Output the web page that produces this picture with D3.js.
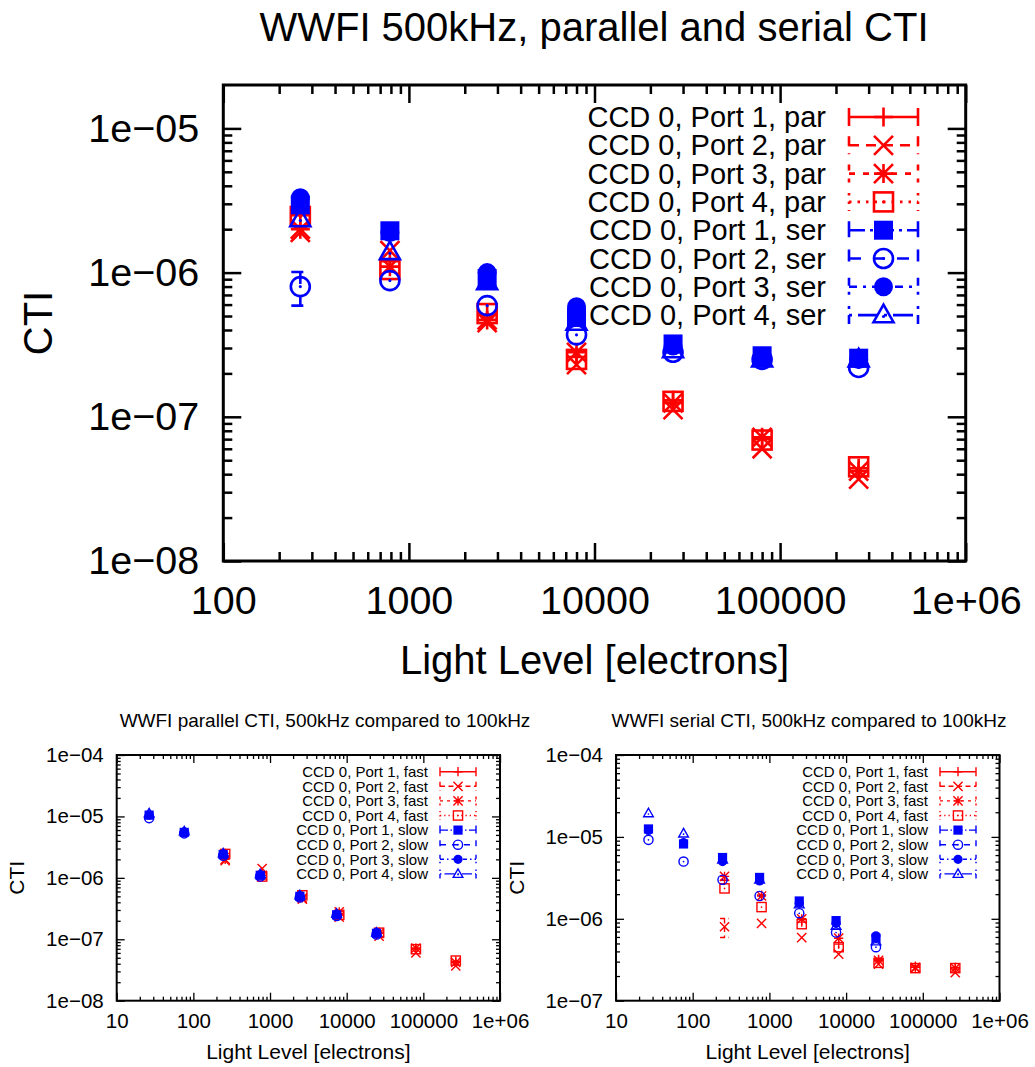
<!DOCTYPE html>
<html><head><meta charset="utf-8">
<script src="https://cdn.jsdelivr.net/npm/d3@7"></script>
<style>body{margin:0;background:#fff} svg{display:block;font-family:"Liberation Sans",Arial,Helvetica,sans-serif}</style>
</head><body><svg id="c" width="1035" height="1067"></svg>
<script>
// ---------------- data ----------------
const fastX = [260, 790, 2640, 8000, 26500, 80000, 265000];   // 500 kHz light levels
const slowX = [26.5, 76, 245, 745, 2450, 7400, 24500];        // 100 kHz light levels

// 500 kHz parallel CTI
const parFastP1 = [2.5e-6, 1.2e-6, 5.1e-7, 2.6e-7, 1.3e-7, 7.0e-8, 4.4e-8];
const parFastP2 = [1.9e-6, 1.42e-6, 4.5e-7, 2.3e-7, 1.12e-7, 6.0e-8, 3.7e-8];
const parFastP3 = [2.0e-6, 1.1e-6, 4.7e-7, 2.8e-7, 1.25e-7, 7.2e-8, 4.2e-8];
const parFastP4 = [2.45e-6, 1.05e-6, 5.2e-7, 2.5e-7, 1.28e-7, 6.9e-8, 4.5e-8];
// 500 kHz serial CTI
const serFastP1 = [2.95e-6, 1.95e-6, 9.1e-7, 4.9e-7, 3.2e-7, 2.65e-7, 2.55e-7];
const serFastP2 = [8.0e-7, 8.8e-7, 5.9e-7, 3.7e-7, 2.8e-7, 2.5e-7, 2.2e-7];
const serFastP3 = [3.3e-6, 1.9e-6, 1.0e-6, 5.8e-7, 3.1e-7, 2.55e-7, 2.5e-7];
const serFastP4 = [2.35e-6, 1.39e-6, 8.6e-7, 4.5e-7, 2.9e-7, 2.5e-7, 2.5e-7];
const serFastP2Err = [2.1e-7, 0, 0, 0, 0, 0, 0];
// 100 kHz parallel CTI
const parSlowP1 = [1.05e-5, 5.5e-6, 2.4e-6, 1.1e-6, 5.0e-7, 2.5e-7, 1.25e-7];
const parSlowP2 = [9.4e-6, 5.3e-6, 2.3e-6, 1.05e-6, 4.8e-7, 2.4e-7, 1.2e-7];
const parSlowP3 = [1.05e-5, 5.6e-6, 2.45e-6, 1.12e-6, 5.1e-7, 2.55e-7, 1.3e-7];
const parSlowP4 = [1.12e-5, 5.7e-6, 2.5e-6, 1.15e-6, 5.2e-7, 2.6e-7, 1.28e-7];
// 100 kHz serial CTI
const serSlowP1 = [1.25e-5, 8.2e-6, 5.6e-6, 3.2e-6, 1.65e-6, 9.5e-7, 5.8e-7];
const serSlowP2 = [9.2e-6, 5.0e-6, 3.0e-6, 1.9e-6, 1.17e-6, 6.8e-7, 4.5e-7];
const serSlowP3 = [1.2e-5, 8.5e-6, 5.0e-6, 2.9e-6, 1.55e-6, 8.8e-7, 6.2e-7];
const serSlowP4 = [1.94e-5, 1.1e-5, 5.3e-6, 3.0e-6, 1.5e-6, 8.2e-7, 5.3e-7];

const portNames = ["CCD 0, Port 1", "CCD 0, Port 2", "CCD 0, Port 3", "CCD 0, Port 4"];
const titles = ["WWFI 500kHz, parallel and serial CTI",
  "WWFI parallel CTI, 500kHz compared to 100kHz",
  "WWFI serial CTI, 500kHz compared to 100kHz"];

// ---------------- styles ----------------
const RED = "#ff0000", BLUE = "#0000ff";
const redSyms = ["plus", "cross", "star", "osquare"];
const blueSyms = ["fsquare", "ocircle", "fcircle", "otriangle"];
const redDash = [null, [10, 7], [6, 8], [2.5, 6]];
const blueDash = [[16, 5, 3, 5], [12, 12], [8, 6, 3, 6], [3, 6, 20, 6]];

const svg = d3.select("#c");

function drawSym(g, type, cx, cy, s, sw, color) {
  switch (type) {
    case "plus":
      g.append("path").attr("d", `M${cx - s},${cy}H${cx + s}M${cx},${cy - s}V${cy + s}`)
        .attr("stroke", color).attr("stroke-width", sw).attr("fill", "none"); break;
    case "cross":
      g.append("path").attr("d", `M${cx - s},${cy - s}L${cx + s},${cy + s}M${cx - s},${cy + s}L${cx + s},${cy - s}`)
        .attr("stroke", color).attr("stroke-width", sw).attr("fill", "none"); break;
    case "star":
      g.append("path").attr("d", `M${cx - s},${cy}H${cx + s}M${cx},${cy - s}V${cy + s}M${cx - s},${cy - s}L${cx + s},${cy + s}M${cx - s},${cy + s}L${cx + s},${cy - s}`)
        .attr("stroke", color).attr("stroke-width", sw).attr("fill", "none"); break;
    case "osquare":
      g.append("rect").attr("x", cx - s).attr("y", cy - s).attr("width", 2 * s).attr("height", 2 * s)
        .attr("stroke", color).attr("stroke-width", sw).attr("fill", "none");
      g.append("circle").attr("cx", cx).attr("cy", cy).attr("r", sw * 0.6).attr("fill", color); break;
    case "fsquare":
      g.append("rect").attr("x", cx - s).attr("y", cy - s).attr("width", 2 * s).attr("height", 2 * s)
        .attr("fill", color); break;
    case "ocircle":
      g.append("circle").attr("cx", cx).attr("cy", cy).attr("r", s)
        .attr("stroke", color).attr("stroke-width", sw).attr("fill", "none");
      g.append("circle").attr("cx", cx).attr("cy", cy).attr("r", sw * 0.6).attr("fill", color); break;
    case "fcircle":
      g.append("circle").attr("cx", cx).attr("cy", cy).attr("r", s).attr("fill", color); break;
    case "otriangle":
      g.append("path").attr("d", `M${cx},${cy - s * 1.1}L${cx + s * 1.05},${cy + s * 0.75}L${cx - s * 1.05},${cy + s * 0.75}Z`)
        .attr("stroke", color).attr("stroke-width", sw).attr("fill", "none").attr("stroke-linejoin", "miter");
      g.append("circle").attr("cx", cx).attr("cy", cy + s * 0.15).attr("r", sw * 0.6).attr("fill", color); break;
  }
}

function decadeTicks(lo, hi) {
  const maj = [], min = [];
  for (let e = Math.floor(Math.log10(lo)); e <= Math.ceil(Math.log10(hi)); e++) {
    const b = Math.pow(10, e);
    if (b >= lo * 0.999 && b <= hi * 1.001) maj.push(b);
    for (let k = 2; k <= 9; k++) {
      const v = k * b;
      if (v > lo * 1.001 && v < hi * 0.999) min.push(v);
    }
  }
  return { maj, min };
}
const fmtY = v => { const e = Math.round(Math.log10(v)); return "1e" + (e < 0 ? "\u2212" : "+") + String(Math.abs(e)).padStart(2, "0"); };
const fmtX = v => v >= 1e6 ? "1e+06" : String(Math.round(v));

function chart(o) {
  const g = svg.append("g");
  const x = d3.scaleLog().domain(o.xd).range([o.left, o.right]);
  const y = d3.scaleLog().domain(o.yd).range([o.bottom, o.top]);
  const xt = decadeTicks(o.xd[0], o.xd[1]), yt = decadeTicks(o.yd[0], o.yd[1]);

  function styleAxis(sel, fs) {
    sel.select(".domain").remove();
    sel.selectAll("line").attr("stroke", "#000").attr("stroke-width", o.tw);
    sel.selectAll("text").attr("fill", "#000").attr("font-size", fs).attr("font-family", '"Liberation Sans",Arial,sans-serif');
  }
  g.append("g").attr("transform", `translate(0,${o.bottom})`)
    .call(d3.axisBottom(x).tickValues(xt.maj).tickFormat(fmtX).tickSizeInner(-o.maj).tickSizeOuter(0).tickPadding(o.xpad))
    .call(s => styleAxis(s, o.tfs));
  g.append("g").attr("transform", `translate(0,${o.bottom})`)
    .call(d3.axisBottom(x).tickValues(xt.min).tickFormat("").tickSizeInner(-o.min).tickSizeOuter(0))
    .call(s => styleAxis(s, o.tfs));
  g.append("g").attr("transform", `translate(0,${o.top})`)
    .call(d3.axisTop(x).tickValues(xt.maj).tickFormat("").tickSizeInner(-o.maj).tickSizeOuter(0))
    .call(s => styleAxis(s, o.tfs));
  g.append("g").attr("transform", `translate(0,${o.top})`)
    .call(d3.axisTop(x).tickValues(xt.min).tickFormat("").tickSizeInner(-o.min).tickSizeOuter(0))
    .call(s => styleAxis(s, o.tfs));
  g.append("g").attr("transform", `translate(${o.left},0)`)
    .call(d3.axisLeft(y).tickValues(yt.maj).tickFormat(fmtY).tickSizeInner(-o.maj).tickSizeOuter(0).tickPadding(o.ypad))
    .call(s => styleAxis(s, o.tfs));
  g.append("g").attr("transform", `translate(${o.left},0)`)
    .call(d3.axisLeft(y).tickValues(yt.min).tickFormat("").tickSizeInner(-o.min).tickSizeOuter(0))
    .call(s => styleAxis(s, o.tfs));
  g.append("g").attr("transform", `translate(${o.right},0)`)
    .call(d3.axisRight(y).tickValues(yt.maj).tickFormat("").tickSizeInner(-o.maj).tickSizeOuter(0))
    .call(s => styleAxis(s, o.tfs));
  g.append("g").attr("transform", `translate(${o.right},0)`)
    .call(d3.axisRight(y).tickValues(yt.min).tickFormat("").tickSizeInner(-o.min).tickSizeOuter(0))
    .call(s => styleAxis(s, o.tfs));

  g.append("rect").attr("x", o.left).attr("y", o.top).attr("width", o.right - o.left).attr("height", o.bottom - o.top)
    .attr("fill", "none").attr("stroke", "#000").attr("stroke-width", o.bw);

  g.append("text").attr("x", o.titleX).attr("y", o.titleY).attr("text-anchor", "middle")
    .attr("font-size", o.titleFs).text(o.title);
  g.append("text").attr("x", (o.left + o.right) / 2).attr("y", o.xlabY).attr("text-anchor", "middle")
    .attr("font-size", o.labFs).text("Light Level [electrons]");
  g.append("text").attr("transform", `translate(${o.ylabX},${(o.top + o.bottom) / 2}) rotate(-90)`)
    .attr("text-anchor", "middle").attr("font-size", o.labFs).text("CTI");

  o.series.forEach(sr => {
    const sg = g.append("g");
    sr.ys.forEach((v, i) => {
      const cx = x(sr.xs[i]), cy = y(v);
      if (sr.err && sr.err[i] > 0) {
        const y1 = y(v + sr.err[i]), y2 = y(v - sr.err[i]);
        const cw = o.cap;
        const dash = sr.dash ? sr.dash.map(d => d * o.dashScale).join(",") : null;
        sg.append("path").attr("d", `M${cx},${y1}V${y2}M${cx - cw},${y1}H${cx + cw}M${cx - cw},${y2}H${cx + cw}`)
          .attr("stroke", sr.color).attr("stroke-width", o.sw).attr("fill", "none")
          .attr("stroke-dasharray", dash);
      }
      drawSym(sg, sr.sym, cx, cy, o.ms, o.sw, sr.color);
    });
  });

  o.series.forEach((sr, i) => {
    const cy = o.legY + i * o.legDy;
    g.append("text").attr("x", o.legTextX).attr("y", cy).attr("dy", "0.35em").attr("text-anchor", "end")
      .attr("font-size", o.legFs).text(sr.label);
    const dash = sr.dash ? sr.dash.map(d => d * o.dashScale).join(",") : null;
    const x1 = o.legX1, x2 = o.legX2, h = o.cap;
    g.append("path").attr("d", `M${x1},${cy}H${x2}M${x1},${cy - h}V${cy + h}M${x2},${cy - h}V${cy + h}`)
      .attr("stroke", sr.color).attr("stroke-width", o.sw).attr("fill", "none")
      .attr("stroke-dasharray", dash);
    drawSym(g, sr.sym, (x1 + x2) / 2, cy, o.ms, o.sw, sr.color);
  });
}

function mkSeries(xs, arrs, syms, dashes, color, suffix, errs) {
  return arrs.map((a, i) => ({ xs, ys: a, sym: syms[i], dash: dashes[i], color,
    label: portNames[i] + ", " + suffix, err: errs ? errs[i] : null }));
}

// ---------- top chart ----------
chart({
  left: 223.3, right: 965.7, top: 85, bottom: 561,
  xd: [100, 1e6], yd: [1e-8, 2e-5],
  maj: 18, min: 9, tw: 2.5, bw: 3, tfs: 39.5, xpad: 25, ypad: 24,
  title: titles[0], titleX: 594, titleY: 41, titleFs: 40,
  xlabY: 674, labFs: 40, ylabX: 52,
  ms: 9.5, sw: 2.6, cap: 9, dashScale: 1,
  legY: 117, legDy: 28.3, legTextX: 826, legFs: 29, legX1: 849, legX2: 918,
  series: [
    ...mkSeries(fastX, [parFastP1, parFastP2, parFastP3, parFastP4], redSyms, redDash, RED, "par"),
    ...mkSeries(fastX, [serFastP1, serFastP2, serFastP3, serFastP4], blueSyms, blueDash, BLUE, "ser",
      [null, serFastP2Err, null, null])
  ]
});

// ---------- bottom left: parallel ----------
chart({
  left: 116.7, right: 500, top: 755, bottom: 1000.7,
  xd: [10, 1e6], yd: [1e-8, 1e-4],
  maj: 8, min: 4, tw: 1.3, bw: 2, tfs: 20.5, xpad: 13, ypad: 13,
  title: titles[1], titleX: 325, titleY: 727, titleFs: 19,
  xlabY: 1059, labFs: 21, ylabX: 24,
  ms: 4.6, sw: 1.4, cap: 4.5, dashScale: 0.5,
  legY: 771.7, legDy: 14.6, legTextX: 428, legFs: 15, legX1: 440, legX2: 476,
  series: [
    ...mkSeries(fastX, [parFastP1, parFastP2, parFastP3, parFastP4], redSyms, redDash, RED, "fast"),
    ...mkSeries(slowX, [parSlowP1, parSlowP2, parSlowP3, parSlowP4], blueSyms, blueDash, BLUE, "slow")
  ]
});

// ---------- bottom right: serial ----------
chart({
  left: 616, right: 999.5, top: 755, bottom: 1000.7,
  xd: [10, 1e6], yd: [1e-7, 1e-4],
  maj: 8, min: 4, tw: 1.3, bw: 2, tfs: 20.5, xpad: 13, ypad: 13,
  title: titles[2], titleX: 809, titleY: 727, titleFs: 19,
  xlabY: 1059, labFs: 21, ylabX: 524,
  ms: 4.6, sw: 1.4, cap: 4.5, dashScale: 0.5,
  legY: 771.7, legDy: 14.6, legTextX: 928, legFs: 15, legX1: 940, legX2: 976,
  series: [
    ...mkSeries(fastX, [serFastP1, serFastP2, serFastP3, serFastP4], redSyms, redDash, RED, "fast",
      [null, serFastP2Err, null, null]),
    ...mkSeries(slowX, [serSlowP1, serSlowP2, serSlowP3, serSlowP4], blueSyms, blueDash, BLUE, "slow")
  ]
});
</script>
</body></html>
